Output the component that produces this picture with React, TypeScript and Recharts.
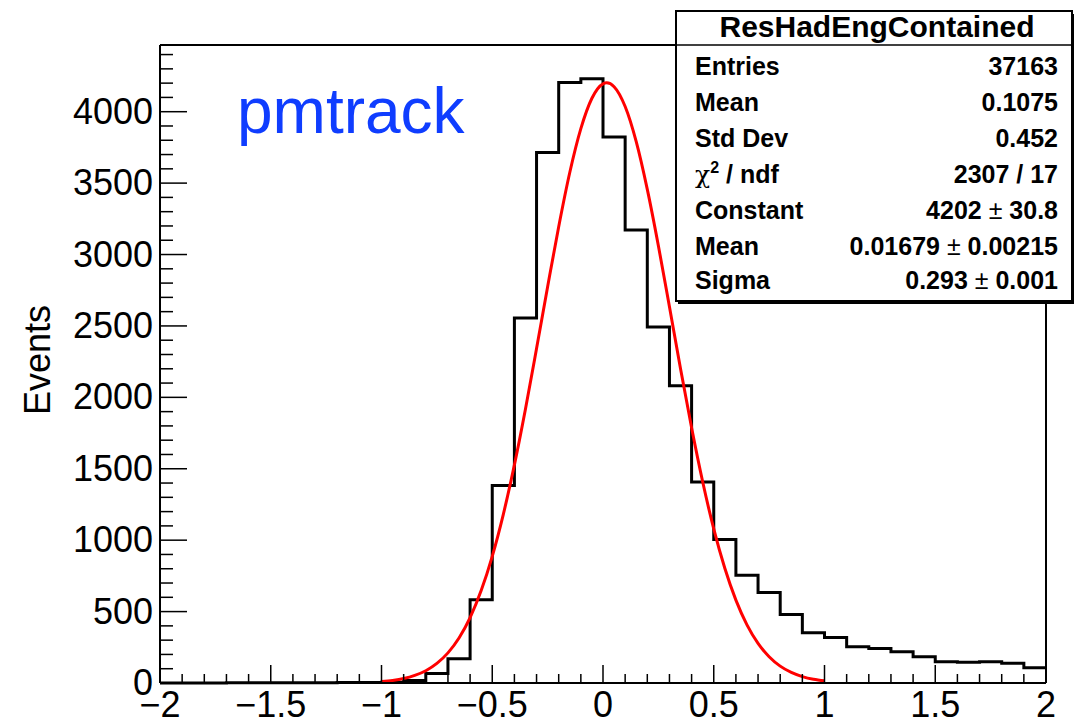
import React from 'react'
import { ComposedChart, Line, XAxis, YAxis } from 'recharts'

// histogram bins (lower edge, width 0.1) and counts
const binLow = [
  -2.0, -1.9, -1.8, -1.7, -1.6, -1.5, -1.4, -1.3, -1.2, -1.1,
  -1.0, -0.9, -0.8, -0.7, -0.6, -0.5, -0.4, -0.3, -0.2, -0.1,
  0.0, 0.1, 0.2, 0.3, 0.4, 0.5, 0.6, 0.7, 0.8, 0.9,
  1.0, 1.1, 1.2, 1.3, 1.4, 1.5, 1.6, 1.7, 1.8, 1.9,
]
const counts = [
  0, 0, 0, 1, 1, 1, 2, 2, 3, 4,
  6, 17, 66, 169, 583, 1382, 2555, 3715, 4205, 4231,
  3823, 3172, 2493, 2082, 1408, 1005, 755, 634, 480, 352,
  319, 254, 242, 219, 184, 149, 145, 149, 138, 107,
]

// gaussian fit curve
const fitX = [
  -1.0, -0.95, -0.9, -0.85, -0.8, -0.75, -0.7, -0.65, -0.6, -0.55,
  -0.5, -0.45, -0.4, -0.35, -0.3, -0.25, -0.2, -0.15, -0.1, -0.05,
  0.0, 0.0168, 0.05, 0.1, 0.15, 0.2, 0.25, 0.3, 0.35, 0.4,
  0.45, 0.5, 0.55, 0.6, 0.65, 0.7, 0.75, 0.8, 0.85, 0.9, 0.95, 1.0,
]
const fitY = [
  10, 18, 31, 53, 86, 137, 211, 315, 458, 647,
  887, 1181, 1527, 1919, 2342, 2775, 3195, 3574, 3881, 4094,
  4195, 4202, 4175, 4036, 3790, 3456, 3062, 2634, 2201, 1787,
  1409, 1079, 803, 580, 407, 277, 184, 118, 74, 45, 26, 15,
]

const xMajor = [-2, -1.5, -1, -0.5, 0, 0.5, 1, 1.5, 2]
const xTicks = [
  -2, -1.9, -1.8, -1.7, -1.6, -1.5, -1.4, -1.3, -1.2, -1.1,
  -1, -0.9, -0.8, -0.7, -0.6, -0.5, -0.4, -0.3, -0.2, -0.1,
  0, 0.1, 0.2, 0.3, 0.4, 0.5, 0.6, 0.7, 0.8, 0.9,
  1, 1.1, 1.2, 1.3, 1.4, 1.5, 1.6, 1.7, 1.8, 1.9, 2,
]
const yMajor = [0, 500, 1000, 1500, 2000, 2500, 3000, 3500, 4000]
const yTicks = [
  0, 100, 200, 300, 400, 500, 600, 700, 800, 900,
  1000, 1100, 1200, 1300, 1400, 1500, 1600, 1700, 1800, 1900,
  2000, 2100, 2200, 2300, 2400, 2500, 2600, 2700, 2800, 2900,
  3000, 3100, 3200, 3300, 3400, 3500, 3600, 3700, 3800, 3900,
  4000, 4100, 4200, 4300, 4400,
]
const yMax = 4467

const statLabels = ['Entries', 'Mean', 'Std Dev', 'chi2', 'Constant', 'Mean', 'Sigma']
const statValues = ['37163', '0.1075', '0.452', '2307 / 17', '4202 ± 30.8', '0.01679 ± 0.00215', '0.293 ± 0.001']

const font = '"Liberation Sans", Arial, Helvetica, sans-serif'

const fmt = (v: number) => String(v).replace('-', '−')

function BottomTick({ x, y, payload }: any) {
  const major = xMajor.includes(payload.value)
  return (
    <g>
      <line x1={x} x2={x} y1={y} y2={y - (major ? 18 : 9)} stroke="#000" strokeWidth={1.5} />
      {major && (
        <text x={x} y={y + 34} textAnchor="middle" fontSize={36} fontFamily={font} fill="#000">
          {fmt(payload.value)}
        </text>
      )}
    </g>
  )
}

function TopTick({ x, y, payload }: any) {
  const major = xMajor.includes(payload.value)
  return <line x1={x} x2={x} y1={y} y2={y + (major ? 18 : 9)} stroke="#000" strokeWidth={1.5} />
}

function LeftTick({ x, y, payload }: any) {
  const major = yMajor.includes(payload.value)
  return (
    <g>
      <line x1={x} x2={x + (major ? 27 : 13)} y1={y} y2={y} stroke="#000" strokeWidth={1.5} />
      {major && (
        <text x={x - 7} y={y + 12} textAnchor="end" fontSize={36} fontFamily={font} fill="#000">
          {payload.value}
        </text>
      )}
    </g>
  )
}

function RightTick({ x, y, payload }: any) {
  const major = yMajor.includes(payload.value)
  return <line x1={x} x2={x - (major ? 27 : 13)} y1={y} y2={y} stroke="#000" strokeWidth={1.5} />
}

export default function App() {
  const hist = binLow
    .map((x, i) => ({ x, y: counts[i] }))
    .concat([{ x: 2, y: counts[counts.length - 1] }])
  const fit = fitX.map((x, i) => ({ x, y: fitY[i] }))

  const rowBase = [75, 111, 147, 183, 219, 255, 289]

  return (
    <div style={{ position: 'absolute', left: 0, top: 0, width: 1074, height: 725, background: '#fff', fontFamily: font }}>
      <ComposedChart width={1074} height={725} margin={{ top: 40, right: 23, bottom: 2, left: 8 }}>
        <XAxis
          xAxisId="b"
          type="number"
          dataKey="x"
          domain={[-2, 2]}
          ticks={xTicks}
          interval={0}
          orientation="bottom"
          height={40}
          tickSize={0}
          tickMargin={0}
          tickLine={false}
          axisLine={{ stroke: '#000', strokeWidth: 2 }}
          tick={<BottomTick />}
        />
        <XAxis
          xAxisId="t"
          type="number"
          dataKey="x"
          domain={[-2, 2]}
          ticks={xTicks}
          interval={0}
          orientation="top"
          height={5}
          tickSize={0}
          tickMargin={0}
          tickLine={false}
          axisLine={{ stroke: '#000', strokeWidth: 2 }}
          tick={<TopTick />}
        />
        <YAxis
          yAxisId="l"
          type="number"
          domain={[0, yMax]}
          ticks={yTicks}
          interval={0}
          orientation="left"
          width={152}
          tickSize={0}
          tickMargin={0}
          tickLine={false}
          axisLine={{ stroke: '#000', strokeWidth: 2 }}
          tick={<LeftTick />}
        />
        <YAxis
          yAxisId="r"
          type="number"
          domain={[0, yMax]}
          ticks={yTicks}
          interval={0}
          orientation="right"
          width={5}
          tickSize={0}
          tickMargin={0}
          tickLine={false}
          axisLine={{ stroke: '#000', strokeWidth: 2 }}
          tick={<RightTick />}
        />
        <Line
          xAxisId="b"
          yAxisId="l"
          data={hist}
          dataKey="y"
          type="stepAfter"
          stroke="#000"
          strokeWidth={3}
          dot={false}
          activeDot={false}
          isAnimationActive={false}
        />
        <Line
          xAxisId="b"
          yAxisId="l"
          data={fit}
          dataKey="y"
          type="monotone"
          stroke="#ff0000"
          strokeWidth={3}
          dot={false}
          activeDot={false}
          isAnimationActive={false}
        />
      </ComposedChart>

      <svg width={1074} height={725} style={{ position: 'absolute', left: 0, top: 0, pointerEvents: 'none' }}>
        <text x={237} y={133} fontSize={64} fontFamily={font} fill="#0f3dff">pmtrack</text>
        <text
          x={50}
          y={360}
          transform="rotate(-90, 50, 360)"
          textAnchor="middle"
          fontSize={36}
          fontFamily={font}
          fill="#000"
        >
          Events
        </text>

        {/* stats box */}
        <rect x={678} y={14} width={396} height={290} fill="#000" />
        <rect x={676} y={11} width={396} height={290} fill="#fff" stroke="#000" strokeWidth={2} />
        <line x1={676} x2={1072} y1={45} y2={45} stroke="#000" strokeWidth={1.5} />
        <text x={877} y={37} textAnchor="middle" fontSize={30} fontWeight="bold" fontFamily={font} fill="#000">
          ResHadEngContained
        </text>
        {statLabels.map((lab, i) => (
          <text key={'l' + i} x={695} y={rowBase[i]} fontSize={25} fontWeight="bold" fontFamily={font} fill="#000">
            {lab === 'chi2' ? (
              <>
                <tspan fontFamily='"DejaVu Serif", serif' fontWeight="normal">χ</tspan>
                <tspan fontSize={16} dy={-10}>2</tspan>
                <tspan dy={10}> / ndf</tspan>
              </>
            ) : (
              lab
            )}
          </text>
        ))}
        {statValues.map((v, i) => {
          const parts = v.split(' ± ')
          return (
            <text key={'v' + i} x={1058} y={rowBase[i]} textAnchor="end" fontSize={25} fontWeight="bold" fontFamily={font} fill="#000">
              {parts.length === 2 ? (
                <>
                  {parts[0] + ' '}
                  <tspan fontWeight="normal">±</tspan>
                  {' ' + parts[1]}
                </>
              ) : (
                v
              )}
            </text>
          )
        })}
      </svg>
    </div>
  )
}
